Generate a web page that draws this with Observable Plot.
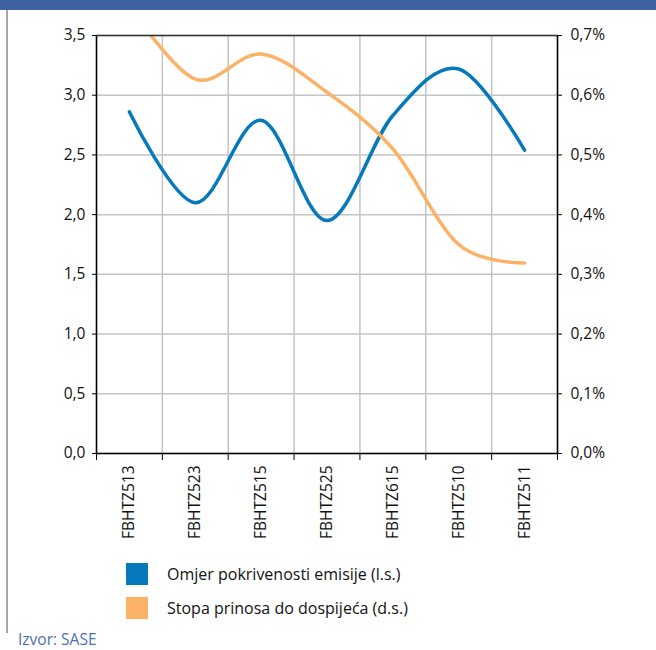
<!DOCTYPE html>
<html><head><meta charset="utf-8">
<script src="https://cdn.jsdelivr.net/npm/d3@7"></script>
<script src="https://cdn.jsdelivr.net/npm/@observablehq/plot@0.6"></script>
<style>
body{margin:0;background:#fff;font-family:"Open Sans",sans-serif;}
#wrap{position:relative;width:656px;height:650px;overflow:hidden;}
#band{position:absolute;left:0;top:0;width:656px;height:10px;background:#3d63a0;}
#border{position:absolute;left:6px;top:10px;width:2px;height:623px;background:#a8a8a8;}
#chart{position:absolute;left:0;top:10px;}
.leg{position:absolute;left:126px;display:flex;align-items:center;font-size:16px;color:#111;height:22px;}
.sw{width:22px;height:22px;margin-right:19px;}
#src{position:absolute;left:18px;top:630px;font-size:15.5px;line-height:18px;color:#4a72b0;}
</style></head>
<body>
<div id="wrap">
  <div id="band"></div>
  <div id="border"></div>
  <div id="chart"></div>
  <div class="leg" style="top:563px"><div class="sw" id="sw0"></div><span id="lg0"></span></div>
  <div class="leg" style="top:597px"><div class="sw" id="sw1"></div><span id="lg1"></span></div>
  <div id="src">Izvor: SASE</div>
</div>
<script>
const categories = ["FBHTZ513","FBHTZ523","FBHTZ515","FBHTZ525","FBHTZ615","FBHTZ510","FBHTZ511"];
const coverage = [2.86, 2.10, 2.79, 1.95, 2.83, 3.22, 2.54];
const yieldPct = [0.75, 0.627, 0.669, 0.605, 0.51, 0.35, 0.319];
const leftTicks = [0, 0.5, 1.0, 1.5, 2.0, 2.5, 3.0, 3.5];
const rightTicks = [0, 0.1, 0.2, 0.3, 0.4, 0.5, 0.6, 0.7];
const seriesNames = ["Omjer pokrivenosti emisije (l.s.)", "Stopa prinosa do dospijeća (d.s.)"];
const colors = ["#0679bd", "#fbb266"];

const k = 3.5 / 0.7;
const idx = categories.map((_, i) => i);
const bounds = d3.range(0, categories.length + 1).map(i => i - 0.5);
const comma = (v) => v.toFixed(1).replace(".", ",");

const chart = Plot.plot({
  width: 656, height: 540,
  marginLeft: 96, marginRight: 99, marginTop: 25, marginBottom: 97,
  x: {type: "linear", domain: [-0.5, categories.length - 0.5], axis: null},
  y: {domain: [0, 3.5], axis: null},
  style: {fontFamily: "'Open Sans', sans-serif", fontSize: "15px", color: "#111", background: "transparent"},
  marks: [
    Plot.ruleY(leftTicks, {y: d => d, stroke: "#c4c4c4", strokeWidth: 1.5}),
    Plot.ruleX(bounds, {x: d => d, stroke: "#c4c4c4", strokeWidth: 1.5}),
    Plot.line(idx, {x: i => i, y: i => coverage[i], curve: "cardinal", tension: 0, stroke: colors[0], strokeWidth: 3.5, clip: true}),
    Plot.line(idx, {x: i => i, y: i => yieldPct[i] * k, curve: "cardinal", tension: 0, stroke: colors[1], strokeWidth: 3.5, clip: true}),
    Plot.ruleX([-0.5, categories.length - 0.5], {x: d => d, stroke: "#000", strokeWidth: 1.5}),
    Plot.ruleY([0], {y: d => d, stroke: "#000", strokeWidth: 1.5}),
    Plot.ruleY([3.5], {y: d => d, stroke: "#333", strokeWidth: 1.5}),
    Plot.axisY(leftTicks, {anchor: "left", tickFormat: comma, tickSize: 4, tickPadding: 7, stroke: "#000", fontSize: 15.5, fill: "#111"}),
    Plot.axisY(rightTicks.map(v => v * k), {anchor: "right", tickFormat: v => comma(v / k) + "%", tickSize: 4, tickPadding: 9, stroke: "#000", fontSize: 15.5, fill: "#111"}),
    Plot.axisX(bounds, {anchor: "bottom", tickSize: 7, tickFormat: () => "", stroke: "#000"}),
    Plot.axisX(idx, {anchor: "bottom", tickSize: 0, tickPadding: 12, tickRotate: -90, tickFormat: i => categories[i], fontSize: 15.5, fill: "#111"})
  ]
});
document.getElementById("chart").appendChild(chart);
for (let i = 0; i < 2; i++) {
  document.getElementById("sw" + i).style.background = colors[i];
  document.getElementById("lg" + i).textContent = seriesNames[i];
}
</script>
</body></html>
